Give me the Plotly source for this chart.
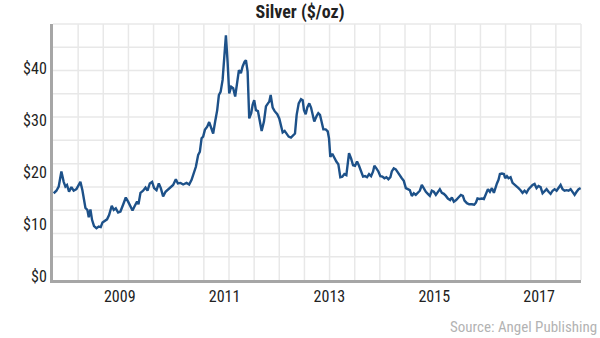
import plotly.graph_objects as go

# decimal-year positions (aligned to the year labels) and silver price ($/oz)
years = [
    2007.739, 2007.791, 2007.835, 2007.886, 2007.930, 2007.963, 2007.993, 2008.032, 2008.077, 2008.121,
    2008.173, 2008.211, 2008.249, 2008.287, 2008.318, 2008.345, 2008.383, 2008.408, 2008.440, 2008.471,
    2008.509, 2008.555, 2008.599, 2008.637, 2008.670, 2008.713, 2008.757, 2008.796, 2008.847, 2008.885,
    2008.924, 2008.968, 2009.013, 2009.063, 2009.115, 2009.159, 2009.204, 2009.243, 2009.287, 2009.330,
    2009.357, 2009.395, 2009.445, 2009.491, 2009.529, 2009.573, 2009.617, 2009.655, 2009.701, 2009.745,
    2009.783, 2009.827, 2009.873, 2009.923, 2009.968, 2010.018, 2010.070, 2010.108, 2010.159, 2010.209,
    2010.274, 2010.324, 2010.370, 2010.414, 2010.452, 2010.496, 2010.528, 2010.561, 2010.591, 2010.624,
    2010.668, 2010.706, 2010.744, 2010.782, 2010.820, 2010.859, 2010.891, 2010.924, 2010.962, 2010.992,
    2011.025, 2011.057, 2011.088, 2011.126, 2011.164, 2011.202, 2011.241, 2011.273, 2011.311, 2011.344,
    2011.382, 2011.407, 2011.439, 2011.470, 2011.508, 2011.535, 2011.565, 2011.598, 2011.636, 2011.674,
    2011.707, 2011.751, 2011.789, 2011.827, 2011.852, 2011.879, 2011.917, 2011.955, 2012.005, 2012.043,
    2012.075, 2012.108, 2012.146, 2012.184, 2012.222, 2012.266, 2012.310, 2012.343, 2012.375, 2012.414,
    2012.458, 2012.490, 2012.515, 2012.547, 2012.578, 2012.616, 2012.649, 2012.681, 2012.711, 2012.757,
    2012.788, 2012.820, 2012.853, 2012.884, 2012.929, 2012.968, 2012.992, 2013.017, 2013.055, 2013.094,
    2013.132, 2013.170, 2013.208, 2013.246, 2013.285, 2013.323, 2013.350, 2013.374, 2013.413, 2013.451,
    2013.489, 2013.527, 2013.565, 2013.604, 2013.642, 2013.680, 2013.718, 2013.756, 2013.795, 2013.833,
    2013.858, 2013.896, 2013.934, 2013.972, 2014.011, 2014.049, 2014.087, 2014.125, 2014.163, 2014.190,
    2014.228, 2014.266, 2014.305, 2014.343, 2014.381, 2014.419, 2014.458, 2014.496, 2014.534, 2014.572,
    2014.610, 2014.648, 2014.687, 2014.725, 2014.763, 2014.801, 2014.840, 2014.878, 2014.916, 2014.954,
    2014.992, 2015.031, 2015.069, 2015.107, 2015.145, 2015.183, 2015.222, 2015.260, 2015.304, 2015.336,
    2015.374, 2015.418, 2015.462, 2015.508, 2015.546, 2015.577, 2015.623, 2015.667, 2015.718, 2015.762,
    2015.795, 2015.825, 2015.863, 2015.909, 2015.947, 2015.986, 2016.024, 2016.062, 2016.100, 2016.138,
    2016.163, 2016.196, 2016.226, 2016.253, 2016.291, 2016.329, 2016.354, 2016.387, 2016.417, 2016.456,
    2016.494, 2016.532, 2016.570, 2016.608, 2016.647, 2016.685, 2016.723, 2016.761, 2016.799, 2016.838,
    2016.876, 2016.914, 2016.952, 2016.990, 2017.029, 2017.067, 2017.105, 2017.143, 2017.181, 2017.220,
    2017.258, 2017.296, 2017.334, 2017.372, 2017.411, 2017.449, 2017.487, 2017.525, 2017.563, 2017.602,
    2017.640, 2017.678, 2017.716, 2017.754, 2017.793,
]
price = [
    15.9, 16.4, 17.2, 20.1, 18.1, 17.2, 17.5, 16.2, 17.1, 16.4,
    16.7, 17.5, 18.1, 16.5, 14.9, 13.1, 12.7, 11.3, 12.8, 10.8,
    9.6, 9.2, 9.5, 9.4, 10.3, 10.6, 10.9, 11.7, 13.5, 12.7,
    13.0, 12.2, 12.4, 13.7, 15.1, 14.3, 13.3, 12.6, 13.5, 14.3,
    13.8, 16.0, 16.4, 17.0, 16.4, 17.8, 18.1, 16.9, 16.5, 17.8,
    16.9, 15.3, 16.2, 16.7, 17.2, 17.5, 18.6, 17.8, 17.9, 17.6,
    17.9, 17.6, 18.5, 19.7, 21.0, 23.3, 23.9, 26.5, 26.8, 28.1,
    28.7, 29.6, 28.4, 27.4, 29.7, 31.9, 34.8, 35.4, 37.7, 41.2,
    46.3, 41.2, 35.1, 36.4, 36.1, 34.5, 37.4, 39.6, 39.0, 40.3,
    41.2, 41.5, 39.3, 30.3, 31.3, 32.9, 33.8, 31.9, 31.7, 29.7,
    27.9, 29.7, 32.6, 33.2, 33.5, 34.8, 32.4, 31.7, 31.1, 30.3,
    29.0, 27.6, 27.9, 27.3, 26.8, 26.6, 27.1, 27.4, 31.0, 33.2,
    34.0, 33.8, 31.9, 31.1, 32.4, 33.2, 32.4, 30.6, 29.7, 30.8,
    31.3, 31.0, 29.4, 28.2, 28.2, 27.8, 26.5, 22.9, 23.5, 22.6,
    22.0, 21.5, 19.0, 19.1, 19.6, 19.4, 22.0, 23.6, 22.6, 21.3,
    21.2, 22.0, 21.2, 20.1, 19.1, 19.2, 19.0, 19.6, 19.2, 20.1,
    21.2, 20.7, 20.1, 19.2, 19.1, 18.8, 19.0, 18.6, 19.0, 20.1,
    20.7, 20.5, 19.9, 19.2, 18.8, 18.3, 16.9, 16.7, 16.5, 15.4,
    15.9, 15.6, 16.0, 16.4, 17.5, 16.7, 16.2, 15.8, 15.4, 16.4,
    16.2, 15.6, 16.2, 16.7, 16.0, 15.8, 15.4, 14.9, 14.6, 15.1,
    14.3, 14.6, 15.1, 15.6, 15.4, 14.5, 14.0, 13.8, 13.8, 13.7,
    14.1, 14.9, 14.8, 14.9, 14.8, 15.9, 16.7, 16.2, 16.9, 16.0,
    16.9, 17.8, 18.5, 19.6, 19.7, 19.6, 18.8, 19.2, 18.8, 19.0,
    17.9, 17.5, 17.3, 16.9, 16.5, 16.0, 16.4, 16.0, 16.7, 17.2,
    17.5, 17.7, 16.9, 17.3, 17.1, 15.9, 16.4, 16.7, 16.2, 15.8,
    16.4, 16.7, 16.4, 16.9, 17.5, 16.7, 16.4, 16.5, 16.4, 16.7,
    16.2, 15.6, 16.2, 16.7, 16.9,
]

x_tick_vals = [2009, 2011, 2013, 2015, 2017]
x_tick_text = ["2009", "2011", "2013", "2015", "2017"]
y_tick_vals = [0, 10, 20, 30, 40]
y_tick_text = ["$0", "$10", "$20", "$30", "$40"]

title_text = "Silver ($/oz)"
source_text = "Source: Angel Publishing"

X_RANGE = [2007.726, 2017.800]
Y_RANGE = [-0.77, 48.46]
N_VGRID = 21
N_HGRID = 11
GRID_COLOR = "#e8e8e8"
AXIS_COLOR = "#a6a6a6"
LINE_COLOR = "#1d5189"
FONT = "Liberation Sans Narrow, Roboto Condensed, DejaVu Sans Condensed, Roboto"

fig = go.Figure()
fig.add_trace(go.Scatter(
    x=years, y=price, mode="lines",
    line=dict(color=LINE_COLOR, width=2.4),
    hoverinfo="skip", showlegend=False,
))

shapes = []
for i in range(1, N_VGRID + 1):
    shapes.append(dict(type="line", xref="paper", yref="paper", x0=i / N_VGRID, x1=i / N_VGRID,
                       y0=0, y1=1, line=dict(color=GRID_COLOR, width=1.5), layer="below"))
for j in range(1, N_HGRID + 1):
    shapes.append(dict(type="line", xref="paper", yref="paper", x0=0, x1=1,
                       y0=j / N_HGRID, y1=j / N_HGRID, line=dict(color=GRID_COLOR, width=1.5), layer="below"))

fig.update_layout(
    width=600, height=338,
    margin=dict(l=53, r=19, t=24, b=58),
    paper_bgcolor="white", plot_bgcolor="white",
    font=dict(family=FONT, color="#222222", size=16),
    shapes=shapes,
    title=dict(text="<b>" + title_text + "</b>", x=0.5, xanchor="center", y=0.965, yanchor="middle",
               font=dict(family=FONT, size=18, color="#222222")),
    xaxis=dict(range=X_RANGE, tickvals=x_tick_vals, ticktext=x_tick_text, showgrid=False,
               zeroline=False, showline=True, linecolor=AXIS_COLOR, linewidth=3, ticks="",
               tickfont=dict(size=16, color="#222222")),
    yaxis=dict(range=Y_RANGE, tickvals=y_tick_vals, ticktext=y_tick_text, showgrid=False,
               zeroline=False, showline=True, linecolor=AXIS_COLOR, linewidth=3, ticks="",
               tickfont=dict(size=16, color="#222222")),
    annotations=[dict(text=source_text, xref="paper", yref="paper", x=1.034, y=-0.185,
                      xanchor="right", yanchor="middle", showarrow=False,
                      font=dict(family=FONT, size=15, color="#b3b3b3"))],
)

fig.write_html("out.html")
